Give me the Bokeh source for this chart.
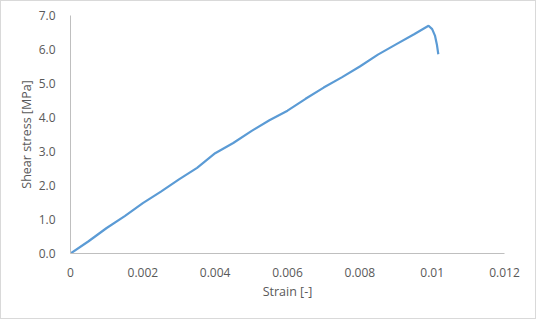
from bokeh.plotting import figure
from bokeh.models import FixedTicker, Range1d
from bokeh.layouts import column
from bokeh.embed import file_html
from bokeh.resources import INLINE

strain = [0, 0.0005, 0.001, 0.0015, 0.002, 0.0025, 0.003, 0.0035, 0.004, 0.0045,
          0.005, 0.0055, 0.006, 0.0065, 0.007, 0.0075, 0.008, 0.0085, 0.009,
          0.0095, 0.0099, 0.0100, 0.01008, 0.01013, 0.01017]
stress = [0, 0.36, 0.75, 1.1, 1.48, 1.82, 2.18, 2.52, 2.95, 3.25,
          3.6, 3.92, 4.2, 4.55, 4.88, 5.18, 5.5, 5.85, 6.15,
          6.45, 6.7, 6.6, 6.4, 6.15, 5.86]
x_ticks = [0, 0.002, 0.004, 0.006, 0.008, 0.01, 0.012]
x_labels = ["0", "0.002", "0.004", "0.006", "0.008", "0.01", "0.012"]
y_ticks = [0, 1, 2, 3, 4, 5, 6, 7]
y_labels = ["0.0", "1.0", "2.0", "3.0", "4.0", "5.0", "6.0", "7.0"]

FONT = "Open Sans"
GRAY = "#595959"

p = figure(width=534, height=317, output_backend="svg", toolbar_location=None,
           x_range=Range1d(0, 0.012), y_range=Range1d(0, 7),
           min_border_left=69, min_border_right=31, min_border_top=14, min_border_bottom=65)
p.outline_line_color = None
p.xgrid.grid_line_color = None
p.ygrid.grid_line_color = None

p.line(strain, stress, line_color="#5b9bd5", line_width=2.2)

p.xaxis.ticker = FixedTicker(ticks=x_ticks)
p.xaxis.major_label_overrides = {t: l for t, l in zip(x_ticks, x_labels)}
p.yaxis.ticker = FixedTicker(ticks=y_ticks)
p.yaxis.major_label_overrides = {t: l for t, l in zip(y_ticks, y_labels)}

for ax in (p.xaxis[0], p.yaxis[0]):
    ax.axis_line_color = "#bfbfbf"
    ax.major_tick_line_color = None
    ax.minor_tick_line_color = None
    ax.major_label_text_font = FONT
    ax.major_label_text_font_size = "12px"
    ax.major_label_text_color = GRAY
    ax.axis_label_text_font = FONT
    ax.axis_label_text_font_size = "12.5px"
    ax.axis_label_text_color = GRAY
    ax.axis_label_text_font_style = "normal"

p.xaxis.axis_label = "Strain [-]"
p.yaxis.axis_label = "Shear stress [MPa]"
p.xaxis.major_label_standoff = 8
p.yaxis.major_label_standoff = 9
p.xaxis.axis_label_standoff = 3
p.yaxis.axis_label_standoff = 1

layout = column(p, styles={"border": "1px solid #d9d9d9"})

open("out.html", "w").write(file_html(layout, INLINE))
